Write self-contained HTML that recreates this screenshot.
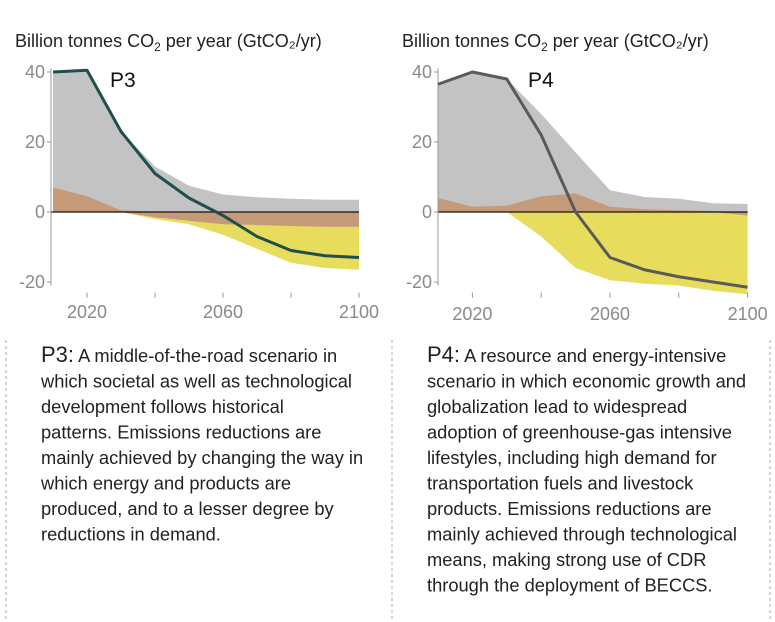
<!DOCTYPE html>
<html><head><meta charset="utf-8"><style>
html,body{margin:0;padding:0;background:#fff;}
svg{display:block;font-family:"Liberation Sans",sans-serif;}
</style></head><body>
<svg id="s" width="775" height="622" viewBox="0 0 775 622">
<line x1="6" y1="340" x2="6" y2="622" stroke="#aaa" stroke-dasharray="3,3"/>
<line x1="392" y1="340" x2="392" y2="622" stroke="#aaa" stroke-dasharray="3,3"/>
<line x1="770" y1="340" x2="770" y2="622" stroke="#aaa" stroke-dasharray="3,3"/>
<g id="p3"></g>
<g id="p4"></g>
<g font-size="18.3" fill="#222">
<text x="41" y="362"><tspan font-size="22">P3:</tspan> A middle-of-the-road scenario in</text>
<text x="41" y="387.5">which societal as well as technological</text>
<text x="41" y="413">development follows historical</text>
<text x="41" y="438.5">patterns. Emissions reductions are</text>
<text x="41" y="464">mainly achieved by changing the way in</text>
<text x="41" y="489.5">which energy and products are</text>
<text x="41" y="515">produced, and to a lesser degree by</text>
<text x="41" y="540.5">reductions in demand.</text>
</g>
<g font-size="18.3" fill="#222">
<text x="427" y="362"><tspan font-size="22">P4:</tspan> A resource and energy-intensive</text>
<text x="427" y="387.5">scenario in which economic growth and</text>
<text x="427" y="413">globalization lead to widespread</text>
<text x="427" y="438.5">adoption of greenhouse-gas intensive</text>
<text x="427" y="464">lifestyles, including high demand for</text>
<text x="427" y="489.5">transportation fuels and livestock</text>
<text x="427" y="515">products. Emissions reductions are</text>
<text x="427" y="540.5">mainly achieved through technological</text>
<text x="427" y="566">means, making strong use of CDR</text>
<text x="427" y="591.5">through the deployment of BECCS.</text>
</g>
</svg>
<script>
const years=[2010,2020,2030,2040,2050,2060,2070,2080,2090,2100];
const p3Line=[40,40.5,23,11,4,-1,-7,-11,-12.5,-13];
const p3Gray=[40,40.5,23,13,7.5,5,4.2,3.8,3.5,3.5];
const p3BrownTop=[7,4.5,0.5,0,0,0,0,0,0,0];
const p3BrownBot=[0,0,0,-1.5,-2.5,-3.5,-3.7,-4,-4.2,-4.2];
const p3Yellow=[0,0,0,-2,-3.5,-6.5,-10.5,-14.5,-16,-16.5];
const p4Line=[36.5,40,38,22,0,-13,-16.5,-18.5,-20,-21.5];
const p4Gray=[36.5,40,38,28,17,6.2,4.3,3.8,2.5,2.3];
const p4BrownTop=[4,1.5,1.8,4.5,5.3,1.5,0.8,0.5,0.3,0];
const p4BrownBot=[0,0,0,0,0,0,0,0,0,-1];
const p4Yellow=[0,0,0,-7,-16,-19.5,-20.5,-21,-22.5,-23.5];
const yTicks=[40,20,0,-20];
const xLabels=[2020,2060,2100];
const NS='http://www.w3.org/2000/svg';
function mk(t,a,p){const e=document.createElementNS(NS,t);for(const k in a)e.setAttribute(k,a[k]);p.appendChild(e);return e;}
function draw(g,cfg){
  const X=y=>cfg.x2010+(y-2010)*cfg.dx;
  const Y=v=>cfg.y0-v*cfg.dy;
  const area=(top,bot,fill,name)=>{
    let d=years.map((y,i)=>(i?'L':'M')+X(y)+','+Y(top[i])).join('');
    for(let i=years.length-1;i>=0;i--)d+='L'+X(years[i])+','+Y(bot[i]);
    const p=mk('path',{d:d+'Z',fill:fill},g);
    
    
  };
  const zero=years.map(()=>0);
  area(cfg.gray,zero,'#c3c3c3',cfg.id+'-gross-emissions-area');
  area(zero,cfg.yellow,'#e8dc5c',cfg.id+'-beccs-area');
  area(cfg.bt,cfg.bb,'#c49a78',cfg.id+'-afolu-area');
  mk('line',{x1:cfg.ax,y1:Y(0),x2:X(2100),y2:Y(0),stroke:'#111','stroke-width':1.3},g);
  const ax=mk('line',{x1:cfg.ax,y1:Y(41),x2:cfg.ax,y2:Y(-21),stroke:'#999'},g);
  
  
  yTicks.forEach(v=>{
    mk('line',{x1:cfg.ax-4,y1:Y(v),x2:cfg.ax,y2:Y(v),stroke:'#999'},g);
    const t=mk('text',{x:cfg.ax-6,y:Y(v)+6,'text-anchor':'end','font-size':18,fill:'#8a8a8a'},g);
    t.textContent=v;
    
    
  });
  [2020,2040,2060,2080,2100].forEach(y=>mk('line',{x1:X(y),y1:Y(-23),x2:X(y),y2:Y(-24.5),stroke:'#999'},g));
  xLabels.forEach(y=>{
    const t=mk('text',{x:X(y),y:cfg.xly,'text-anchor':'middle','font-size':18,fill:'#8a8a8a'},g);
    t.textContent=y;
    
    
  });
  const pl=mk('polyline',{points:years.map((y,i)=>X(y)+','+Y(cfg.line[i])).join(' '),fill:'none',stroke:cfg.lc,'stroke-width':3,'stroke-linejoin':'round'},g);
  
  
  const ti=mk('text',{x:cfg.tx,y:cfg.y0-40*cfg.dy+15,'font-size':21,fill:'#111'},g);
  ti.textContent=cfg.id.toUpperCase();
  
  
  const yl=mk('text',{x:cfg.lx,y:47,'font-size':18,fill:'#222'},g);
  yl.innerHTML='Billion tonnes CO<tspan font-size="12" dy="4">2</tspan><tspan dy="-4"> per year (GtCO₂/yr)</tspan>';
  
  
}
draw(document.getElementById('p3'),{id:'p3',x2010:53,dx:3.4,y0:212,dy:3.5,ax:51,gray:p3Gray,yellow:p3Yellow,bt:p3BrownTop,bb:p3BrownBot,line:p3Line,lc:'#1f4f4c',tx:110,lx:15,xly:318});
draw(document.getElementById('p4'),{id:'p4',x2010:438,dx:3.44,y0:212,dy:3.5,ax:438,gray:p4Gray,yellow:p4Yellow,bt:p4BrownTop,bb:p4BrownBot,line:p4Line,lc:'#5a5a5a',tx:528,lx:402,xly:320});
</script>
</body></html>
